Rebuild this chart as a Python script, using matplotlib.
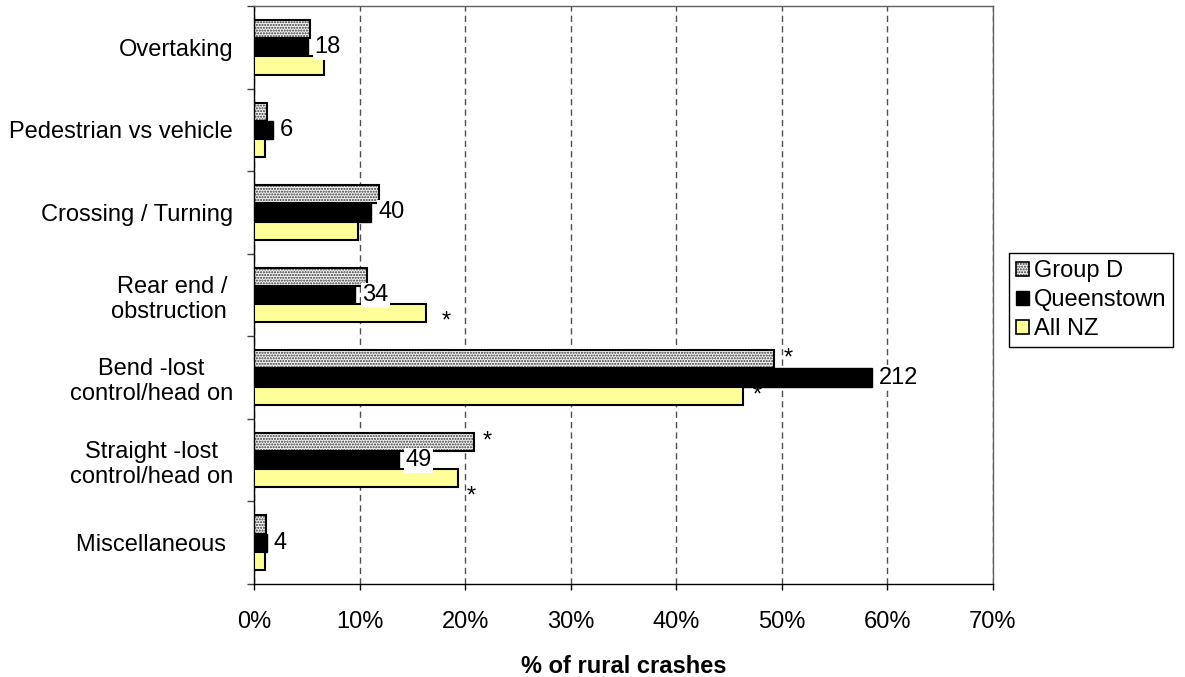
import numpy as np
import matplotlib
matplotlib.use('agg')
from matplotlib import pyplot as plt
from matplotlib.patches import Patch
from matplotlib.ticker import FixedLocator, PercentFormatter

plt.rcParams['font.family'] = ['Liberation Sans', 'DejaVu Sans']

# 数据
categories = ["Overtaking", "Pedestrian vs vehicle", "Crossing / Turning",
              "Rear end /\nobstruction ", "Bend -lost\ncontrol/head on",
              "Straight -lost\ncontrol/head on", "Miscellaneous "]
series_names = ["Group D", "Queenstown", "All NZ"]
group_d = [5.3, 1.25, 11.8, 10.7, 49.3, 20.8, 1.1]
queenstown = [5.1, 1.8, 11.1, 9.6, 58.5, 13.7, 1.2]
all_nz = [6.6, 1.05, 9.9, 16.3, 46.3, 19.3, 1.0]
counts = [18, 6, 40, 34, 212, 49, 4]
# (category, series) pairs flagged with *
stars = [(3, 2), (4, 0), (4, 2), (5, 0), (5, 2)]

FS = 17
H = 0.22
DOT_COLOR = '#333333'
NZ_COLOR = '#ffff99'

fig = plt.figure(figsize=(11.85, 6.77), dpi=100)
ax = fig.add_axes([0.2143, 0.1374, 0.6236, 0.8537])

y = np.arange(len(categories))
values = [group_d, queenstown, all_nz]
offsets = [-H, 0, H]

# Group D: 点状填充 + 黑框
ax.barh(y + offsets[0], group_d, height=H, color='#f4f4f4', edgecolor=DOT_COLOR,
        hatch='......', linewidth=0, zorder=2)
ax.barh(y + offsets[0], group_d, height=H, fill=False, edgecolor='black',
        linewidth=1.5, zorder=3)
ax.barh(y + offsets[1], queenstown, height=H, color='black', edgecolor='black',
        linewidth=1, zorder=3)
ax.barh(y + offsets[2], all_nz, height=H, color=NZ_COLOR, edgecolor='black',
        linewidth=1.5, zorder=3)

# 数量标签
for i, c in enumerate(counts):
    ax.annotate(str(c), xy=(queenstown[i], y[i]), xytext=(5, 0),
                textcoords='offset points', ha='left', va='center', fontsize=FS,
                bbox=dict(facecolor='white', edgecolor='none', pad=1), zorder=4)

# 星号
star_offsets = [(14.4, -10.5), (10, -4), (10.8, -4), (10, -4), (10, -17.5)]
for (ci, si), (dx, dy) in zip(stars, star_offsets):
    ax.annotate('*', xy=(values[si][ci], y[ci] + offsets[si]), xytext=(dx, dy),
                textcoords='offset points', ha='center', va='baseline',
                fontsize=FS, zorder=5)

ax.set_xlim(0, 70)
ax.set_ylim(len(categories) - 0.5, -0.5)

ax.set_xticks(np.arange(0, 71, 10))
ax.xaxis.set_major_formatter(PercentFormatter(decimals=0))
ax.tick_params(axis='x', direction='out', length=4.3, width=1, pad=15,
               labelsize=FS, color='black')

ax.set_yticks(y)
ax.set_yticklabels(categories, multialignment='center')
ax.yaxis.set_minor_locator(FixedLocator(np.arange(-0.5, len(categories), 1)))
ax.tick_params(axis='y', which='major', length=0, pad=15, labelsize=FS)
ax.tick_params(axis='y', which='minor', direction='out', length=5, width=1,
               color='#404040')

ax.xaxis.grid(True, linestyle=(0, (4.5, 3)), color='#505050', linewidth=1)
ax.set_axisbelow(True)

for s in ['left', 'bottom']:
    ax.spines[s].set_color('black')
    ax.spines[s].set_linewidth(1)
for s in ['top', 'right']:
    ax.spines[s].set_color('#606060')
    ax.spines[s].set_linewidth(1)

ax.set_xlabel("% of rural crashes", fontsize=FS, fontweight='bold', labelpad=16)

# 图例
h_dot = Patch(facecolor='#f4f4f4', edgecolor=DOT_COLOR, hatch='......', linewidth=0)
h_dot_edge = Patch(fill=False, edgecolor='black', linewidth=1.2)
h_q = Patch(facecolor='black', edgecolor='black', linewidth=1)
h_nz = Patch(facecolor=NZ_COLOR, edgecolor='black', linewidth=1.2)
fig.legend([(h_dot, h_dot_edge), h_q, h_nz], series_names,
           loc='upper left', bbox_to_anchor=(0.8515, 0.6263),
           fontsize=FS, frameon=True, fancybox=False, edgecolor='black',
           framealpha=1, handlelength=0.55, handleheight=0.55, handletextpad=0.2,
           labelspacing=0.3, borderpad=0.3, borderaxespad=0)

plt.savefig('out.png', dpi=100)
